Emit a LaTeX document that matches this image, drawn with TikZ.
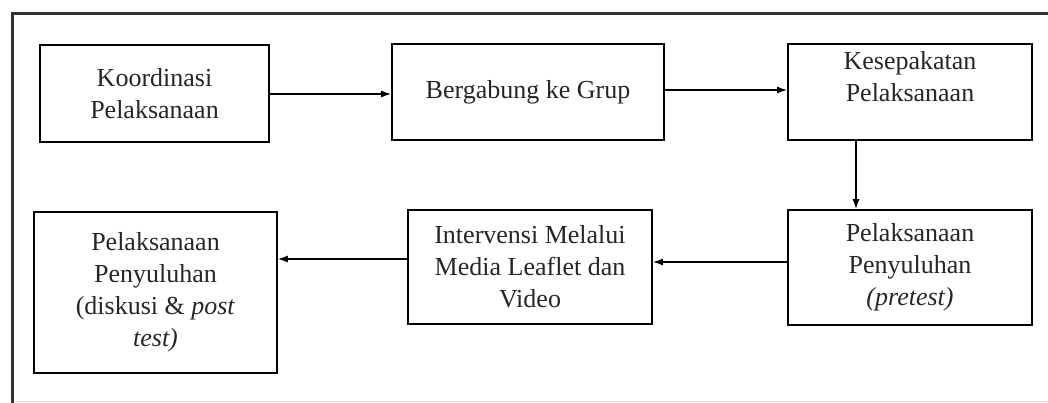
\documentclass[tikz,border=0pt]{standalone}
\usepackage{fontspec}
\setmainfont{Liberation Serif}
\usetikzlibrary{arrows.meta}

\newcommand{\boxfont}{\fontsize{26}{32}\selectfont}

\begin{document}
\begin{tikzpicture}[x=1pt,y=-1pt,
    box/.style={draw=black, line width=1.6pt, align=center, inner sep=0pt, font=\boxfont, text=black!85},
    arr/.style={-{Latex[length=10pt,width=7pt]}, line width=1.5pt}]
    % Define sizes (1 unit = 1 pixel of the page)
    \def\W{1048}
    \def\H{403}
    \def\boxw{244}

    \useasboundingbox (0,0) rectangle (\W,\H);

    % Draw the outer frame
    \draw[black!80, line width=3pt] (\W,13.5) -- (12.5,13.5) -- (12.5,\H);
    \draw[black!15, line width=1pt] (14,401.5) -- (\W,401.5);

    % Top row
    \node[box, minimum width=229pt, minimum height=97pt] (koord) at (154.5,93.5) {Koordinasi\\Pelaksanaan};
    \node[box, minimum width=272pt, minimum height=96pt] (grup) at (528,92) {Bergabung ke Grup};
    \node[box, minimum width=\boxw pt, minimum height=96pt] (sepakat) at (910,92) {Kesepakatan\\Pelaksanaan\\\mbox{}};

    % Bottom row
    \node[box, minimum width=\boxw pt, minimum height=115pt] (pretest) at (910,267.5) {Pelaksanaan\\Penyuluhan\\\textit{(pretest)}};
    \node[box, minimum width=\boxw pt, minimum height=114pt] (media) at (530,267) {Intervensi Melalui\\Media Leaflet dan\\Video};
    \node[box, minimum width=243pt, minimum height=161pt] (posttest) at (155.5,292.5) {Pelaksanaan\\Penyuluhan\\(diskusi \& \textit{post}\\\textit{test)}};

    % Arrows
    \draw[arr] ([yshift=-0.5pt]koord.east) -- ([yshift=-0.5pt]koord.east -| grup.west);
    \draw[arr] ([yshift=2pt]grup.east) -- ([yshift=2pt]grup.east -| sepakat.west);
    \draw[arr] ([xshift=-54pt]sepakat.south) -- ([xshift=-54pt]pretest.north);
    \draw[arr] ([yshift=5pt]media.west -| pretest.west) -- ([yshift=5pt]media.east);
    \draw[arr] ([yshift=8pt]media.west) -- ([yshift=8pt]media.west -| posttest.east);

\end{tikzpicture}
\end{document}
